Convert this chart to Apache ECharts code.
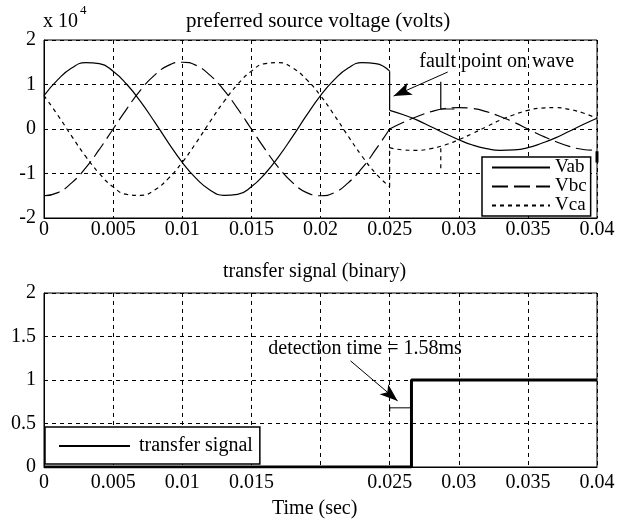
<!DOCTYPE html>
<html>
<head>
<meta charset="utf-8">
<script src="https://cdn.jsdelivr.net/npm/echarts@6/dist/echarts.min.js"></script>
<style>
html,body{margin:0;padding:0;background:#fff;}
#main{width:618px;height:519px;}
</style>
</head>
<body>
<div id="main"></div>
<script>
// time in seconds, voltages in x 10^4 volts
var preTime  = [0,0.001,0.002,0.003,0.004,0.005,0.006,0.007,0.008,0.009,0.010,0.011,0.012,
                0.013,0.014,0.015,0.016,0.017,0.018,0.019,0.020,0.021,0.022,0.023,0.024,0.025];
var vabPre   = [0.75,1.11,1.37,1.49,1.47,1.30,1.00,0.61,0.16,-0.31,-0.75,-1.11,-1.37,
                -1.49,-1.47,-1.30,-1.00,-0.61,-0.16,0.31,0.75,1.11,1.37,1.49,1.47,1.30];
var vbcPre   = [-1.50,-1.43,-1.21,-0.88,-0.46,0,0.46,0.88,1.21,1.43,1.50,1.43,1.21,
                0.88,0.46,0,-0.46,-0.88,-1.21,-1.43,-1.50,-1.43,-1.21,-0.88,-0.46,0];
var vcaPre   = [0.75,0.31,-0.16,-0.61,-1.00,-1.30,-1.47,-1.49,-1.37,-1.11,-0.75,-0.31,0.16,
                0.61,1.00,1.30,1.47,1.49,1.37,1.11,0.75,0.31,-0.16,-0.61,-1.00,-1.30];

var postTime = [0.025,0.026,0.027,0.028,0.029,0.030,0.031,0.032,0.033,0.034,0.035,0.036,
                0.037,0.038,0.039,0.040];
var vabPost  = [0.42,0.32,0.20,0.05,-0.10,-0.24,-0.36,-0.44,-0.48,-0.47,-0.42,-0.32,-0.20,-0.05,0.10,0.24];
var vbcPost  = [0,0.15,0.28,0.39,0.46,0.48,0.46,0.39,0.28,0.15,0,-0.15,-0.28,-0.39,-0.46,-0.48];
var vcaPost  = [-0.42,-0.47,-0.48,-0.44,-0.36,-0.24,-0.10,0.05,0.20,0.32,0.42,0.47,0.48,0.44,0.36,0.24];

// small stray traces after the fault
var strayAbT = [0.0287,0.0287,0.0297];
var strayAbV = [1.06,0.45,0.45];
var strayCaT = [0.0287,0.0287];
var strayCaV = [-0.43,-0.97];
var strayEdgeT = [0.04,0.04];
var strayEdgeV = [-0.50,-0.75];

// transfer signal (binary)
var sigTime  = [0,0.02658,0.02658,0.04];
var sigValue = [0,0,1,1];
var detectT  = [0.025,0.025,0.025,0.02658];
var detectV  = [0.72,0.64,0.68,0.68];

var topXLabels = ['0','0.005','0.01','0.015','0.02','0.025','0.03','0.035','0.04'];
var botXLabels = ['0','0.005','0.01','0.015','','0.025','0.03','0.035','0.04'];

// annotations: [text point], [arrow start], [arrow end]
var faultText = [0.03275,1.51];
var faultArrow = [[0.0292,1.28],[0.02529,0.74]];
var detectText = [0.02322,1.36];
var detectArrow = [[0.02217,1.22],[0.02558,0.76]];

var FONT = '"Liberation Serif", "Times New Roman", serif';

function pairs(xs, ys){
    var out = [];
    for(var i = 0; i<xs.length; i++){
        out.push([xs[i], ys[i]]);
    }
    return out;
}

var myChart = echarts.init(document.getElementById('main'));

function xAxisCfg(gridIndex, labels, margin){
    return {
        type:'value', gridIndex:gridIndex, min:0, max:0.04, interval:0.005,
        axisLine:{show:true, onZero:false, lineStyle:{color:'#000', width:1}},
        axisTick:{show:false},
        axisLabel:{
            color:'#000', fontFamily:FONT, fontSize:20, margin:margin,
            formatter:function(v){ return labels[Math.round(v/0.005)]; }
        },
        splitLine:{show:true, lineStyle:{color:'#000', type:[4,4], width:1}}
    };
}
function yAxisCfg(gridIndex, min, max, interval){
    return {
        type:'value', gridIndex:gridIndex, min:min, max:max, interval:interval,
        axisLine:{show:true, onZero:false, lineStyle:{color:'#000', width:1}},
        axisTick:{show:false},
        axisLabel:{color:'#000', fontFamily:FONT, fontSize:20, margin:8},
        splitLine:{show:true, lineStyle:{color:'#000', type:[4,4], width:1}}
    };
}
function wave(name, data, dash, smooth){
    return {
        name:name, type:'line', xAxisIndex:0, yAxisIndex:0,
        data:data, symbol:'none', smooth:smooth, silent:true,
        itemStyle:{color:'#000'},
        lineStyle:{color:'#000', width:1.2, type:dash}
    };
}

var faultT = postTime[0];
var series = [
    wave('Vab', pairs(preTime, vabPre), 'solid', true),
    wave('Vbc', pairs(preTime, vbcPre), [16,6], true),
    wave('Vca', pairs(preTime, vcaPre), [4,4], true),
    wave('Vab', pairs(postTime, vabPost), 'solid', true),
    wave('Vbc', pairs(postTime, vbcPost), [16,6], true),
    wave('Vca', pairs(postTime, vcaPost), [4,4], true),
    wave('step-ab', [[faultT, vabPre[vabPre.length-1]], [faultT, vabPost[0]]], 'solid', false),
    wave('step-ca', [[faultT, vcaPre[vcaPre.length-1]], [faultT, vcaPost[0]]], [4,4], false),
    wave('stray-ab', pairs(strayAbT, strayAbV), 'solid', false),
    wave('stray-ca', pairs(strayCaT, strayCaV), [4,4], false),
    wave('stray-edge', pairs(strayEdgeT, strayEdgeV), 'solid', false)
];
series[series.length-1].lineStyle.width = 3;

// fault annotation
series.push({
    name:'fault-note', type:'line', xAxisIndex:0, yAxisIndex:0, data:[], symbol:'none',
    markPoint:{
        symbol:'circle', symbolSize:0, silent:true,
        label:{show:true, position:'inside', color:'#000', fontFamily:FONT, fontSize:20,
               formatter:'fault point on wave'},
        data:[{coord:faultText}]
    },
    markLine:{
        silent:true, symbol:['none','arrow'], symbolSize:[10,18], animation:false,
        lineStyle:{color:'#000', type:'solid', width:1}, label:{show:false},
        data:[[{coord:faultArrow[0]},{coord:faultArrow[1]}]]
    }
});

// transfer signal
series.push({
    name:'transfer signal', type:'line', xAxisIndex:1, yAxisIndex:1,
    data:pairs(sigTime, sigValue), symbol:'none', silent:true,
    itemStyle:{color:'#000'},
    lineStyle:{color:'#000', width:3, type:'solid'},
    markPoint:{
        symbol:'circle', symbolSize:0, silent:true,
        label:{show:true, position:'inside', color:'#000', fontFamily:FONT, fontSize:20,
               formatter:'detection time = 1.58ms'},
        data:[{coord:detectText}]
    },
    markLine:{
        silent:true, symbol:['none','arrow'], symbolSize:[10,18], animation:false,
        lineStyle:{color:'#000', type:'solid', width:1}, label:{show:false},
        data:[[{coord:detectArrow[0]},{coord:detectArrow[1]}]]
    }
});
series.push({
    name:'detect', type:'line', xAxisIndex:1, yAxisIndex:1,
    data:pairs(detectT, detectV), symbol:'none', silent:true,
    lineStyle:{color:'#000', width:1, type:'solid'}
});

var option = {
    backgroundColor:'#fff',
    animation:false,
    textStyle:{fontFamily:FONT, color:'#000'},
    title:[
        {text:'preferred source voltage (volts)', left:186, top:11, padding:0,
         textStyle:{fontFamily:FONT, fontSize:21, fontWeight:'normal', color:'#000'}},
        {text:'transfer signal (binary)', left:223, top:262, padding:0,
         textStyle:{fontFamily:FONT, fontSize:20, fontWeight:'normal', color:'#000'}},
        {text:'Time (sec)', left:272, top:499, padding:0,
         textStyle:{fontFamily:FONT, fontSize:20, fontWeight:'normal', color:'#000'}}
    ],
    graphic:[
        {type:'text', left:43, top:12, style:{text:'x 10', font:'20px ' + FONT, fill:'#000'}},
        {type:'text', left:80, top:4, style:{text:'4', font:'13px ' + FONT, fill:'#000'}}
    ],
    grid:[
        {left:44, right:21, top:40, height:178, show:true, borderColor:'#000', borderWidth:1},
        {left:44, right:21, top:293, height:174, show:true, borderColor:'#000', borderWidth:1}
    ],
    xAxis:[xAxisCfg(0, topXLabels, 2), xAxisCfg(1, botXLabels, 6)],
    yAxis:[yAxisCfg(0, -2, 2, 1), yAxisCfg(1, 0, 2, 0.5)],
    legend:[
        {
            data:['Vab','Vbc','Vca'], orient:'vertical', left:482, top:157,
            itemWidth:58, itemHeight:12, itemGap:0, padding:[1,4,1,9],
            borderColor:'#000', borderWidth:1.5, backgroundColor:'#fff',
            selectedMode:false, itemStyle:{opacity:0},
            textStyle:{fontFamily:FONT, fontSize:19, color:'#000', lineHeight:18}
        },
        {
            data:['transfer signal'], orient:'horizontal', left:45, top:427,
            itemWidth:71, itemHeight:14, padding:[9,7,8,13],
            borderColor:'#000', borderWidth:1.5, backgroundColor:'#fff',
            selectedMode:false, itemStyle:{opacity:0},
            textStyle:{fontFamily:FONT, fontSize:20, color:'#000', padding:[0,0,0,4]}
        }
    ],
    series:series
};
myChart.setOption(option);
</script>
</body>
</html>
